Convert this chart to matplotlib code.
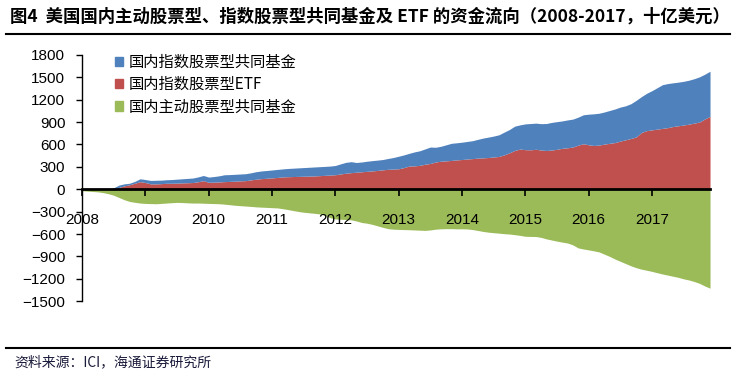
import numpy as np
import matplotlib
matplotlib.use("Agg")
import matplotlib.pyplot as plt
from matplotlib.patches import Patch
from matplotlib.lines import Line2D

plt.rcParams["font.family"] = ["Liberation Sans", "Noto Sans CJK SC", "DejaVu Sans"]

# cumulative flows, monthly Jan 2008 .. Dec 2017 (billion USD)
etf = [0, 0, 0, 0, 0, 0, 5, 25, 45, 60, 80, 102,
       90, 72, 72, 75, 80, 80, 82, 85, 87, 90, 100, 115,
       93, 95, 98, 102, 105, 108, 112, 115, 125, 135, 142, 147,
       152, 158, 165, 168, 170, 172, 174, 176, 178, 182, 186, 190,
       194, 205, 215, 222, 228, 234, 240, 245, 252, 260, 267, 270,
       274, 290, 311, 313, 320, 335, 345, 365, 375, 380, 386, 393,
       398, 405, 410, 417, 420, 425, 432, 439, 460, 488, 520, 538,
       530, 528, 535, 525, 519, 525, 535, 548, 555, 565, 590, 609,
       595, 586, 592, 605, 615, 625, 645, 662, 680, 700, 760, 785,
       795, 805, 815, 825, 840, 850, 860, 872, 885, 900, 940, 975]
# top of the blue band (ETF + index mutual funds)
index_total = [0, 0, 0, 0, 0, 5, 20, 55, 72, 80, 105, 140,
               130, 118, 120, 122, 127, 130, 135, 140, 145, 150, 165, 184,
               163, 170, 180, 194, 196, 200, 204, 208, 220, 235, 245, 251,
               258, 265, 272, 278, 282, 286, 290, 294, 298, 302, 306, 310,
               318, 340, 360, 369, 358, 365, 375, 383, 390, 398, 412, 425,
               442, 460, 481, 500, 515, 540, 565, 562, 575, 595, 615, 622,
               630, 640, 650, 668, 685, 698, 712, 729, 765, 800, 845, 862,
               875, 880, 885, 878, 880, 895, 905, 915, 928, 939, 965, 997,
               1005, 1010, 1018, 1035, 1055, 1075, 1100, 1117, 1145, 1190, 1240, 1285,
               1320, 1360, 1400, 1415, 1425, 1434, 1445, 1460, 1480, 1505, 1540, 1580]
active = [-20, -25, -30, -35, -45, -60, -80, -110, -140, -163, -175, -185,
          -190, -192, -194, -190, -185, -180, -176, -178, -182, -185, -185, -187,
          -190, -192, -194, -200, -207, -215, -220, -225, -230, -236, -240, -243,
          -247, -250, -260, -272, -285, -298, -308, -315, -322, -330, -350, -380,
          -398, -402, -405, -410, -425, -445, -455, -470, -490, -510, -528, -535,
          -538, -540, -542, -545, -548, -551, -545, -535, -530, -528, -528, -530,
          -530, -532, -540, -552, -565, -575, -582, -588, -595, -600, -608, -618,
          -630, -632, -633, -645, -665, -680, -695, -708, -720, -745, -785, -800,
          -812, -825, -840, -870, -900, -935, -965, -995, -1025, -1050, -1070, -1085,
          -1100, -1118, -1135, -1150, -1165, -1180, -1200, -1215, -1235, -1260, -1295, -1325]
years = [str(y) for y in range(2008, 2018)]
labels = ["国内指数股票型共同基金", "国内指数股票型ETF", "国内主动股票型共同基金"]
colors = ["#4F81BD", "#C0504D", "#9BBB59"]

etf = np.array(etf, dtype=float)
index_mf = np.array(index_total, dtype=float) - etf
active = np.array(active, dtype=float)
x = np.arange(len(etf))

fig = plt.figure(figsize=(7.36, 3.78), dpi=100)
ax = fig.add_axes([0.1114, 0.203, 0.8533, 0.652])

ax.fill_between(x, 0, etf, color=colors[1], lw=0)
ax.fill_between(x, etf, etf + index_mf, color=colors[0], lw=0)
ax.fill_between(x, 0, active, color=colors[2], lw=0)

ax.set_xlim(0, len(x) - 1)
ax.set_ylim(-1500, 1800)
ax.set_yticks(np.arange(-1500, 1801, 300))
ax.tick_params(axis="y", labelsize=11, length=4, width=1, pad=8, direction="out")

ax.set_xticks(np.arange(0, len(x), 12))
ax.set_xticklabels(years)
ax.tick_params(axis="x", labelsize=11, length=5, width=1.2, pad=12, direction="out")

for s in ["top", "right"]:
    ax.spines[s].set_visible(False)
ax.spines["bottom"].set_position(("data", 0))
ax.spines["bottom"].set_linewidth(2)
ax.spines["left"].set_linewidth(1)

handles = [Patch(color=c) for c in colors]
leg = ax.legend(handles, labels, loc="upper left", bbox_to_anchor=(0.03, 1.06),
                frameon=False, handlelength=0.55, handleheight=0.55,
                handletextpad=0.35, labelspacing=0.35,
                prop={"family": ["Noto Sans CJK SC"], "size": 11})

fig.text(0.013, 0.955, "图4  美国国内主动股票型、指数股票型共同基金及 ETF 的资金流向（2008-2017，十亿美元）",
         fontsize=12.5, fontweight="bold", family=["Noto Sans CJK SC"], va="center", ha="left")
fig.add_artist(Line2D([0.008, 0.992], [0.91, 0.91], color="black", lw=1.5, transform=fig.transFigure))
fig.add_artist(Line2D([0.008, 0.992], [0.079, 0.079], color="black", lw=1.5, transform=fig.transFigure))
fig.text(0.02, 0.042, "资料来源：ICI，海通证券研究所", fontsize=10, family=["Noto Sans CJK SC"],
         va="center", ha="left", color="#1a1a3a")

fig.savefig("out.png", dpi=100)
